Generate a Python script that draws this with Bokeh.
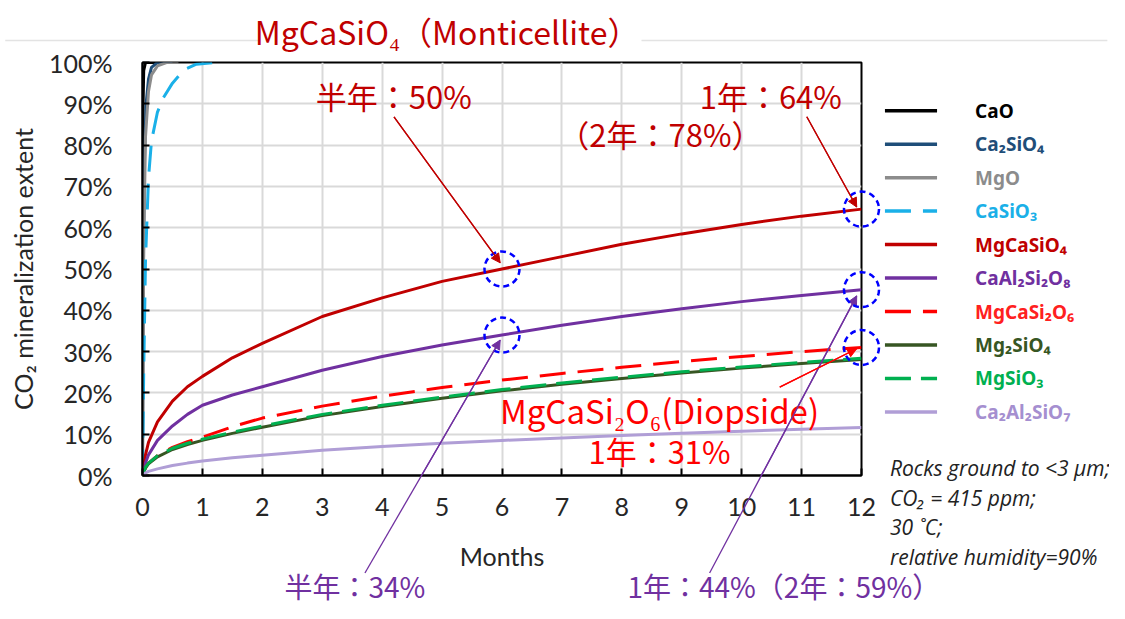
from bokeh.plotting import figure
from bokeh.models import (Range1d, FixedTicker, PrintfTickFormatter, Arrow, NormalHead)
from bokeh.core.properties import value
from bokeh.embed import file_html
from bokeh.resources import INLINE

# ---------------- data ----------------
months = [0, 0.05, 0.1, 0.25, 0.5, 0.75, 1, 1.5, 2, 3, 4, 5, 6, 7, 8, 9, 10, 11, 12]
MgCaSiO4 = [0, 5, 8, 13, 18, 21.5, 24, 28.5, 32, 38.5, 43, 47, 50, 53, 56, 58.5, 60.8, 62.8, 64.5]
CaAl2Si2O8 = [0, 3, 5, 8.5, 12, 14.8, 17, 19.5, 21.5, 25.5, 28.8, 31.6, 34, 36.4, 38.5, 40.4, 42.1, 43.6, 45]
MgCaSi2O6 = [0, 2, 3, 4.8, 6.8, 8.2, 9.3, 11.8, 13.9, 16.8, 19.2, 21.3, 23.1, 24.7, 26.2, 27.6, 28.8, 30, 31]
Mg2SiO4 = [0, 1.8, 2.8, 4.5, 6.3, 7.5, 8.5, 10.2, 11.7, 14.5, 16.7, 18.7, 20.5, 22.1, 23.5, 24.8, 26, 27.1, 28.1]
MgSiO3 = [0, 2, 3, 4.8, 6.6, 7.8, 8.8, 10.5, 12, 14.8, 17, 19, 20.8, 22.4, 23.8, 25.1, 26.3, 27.4, 28.4]
Ca2Al2SiO7 = [0, 0.6, 1, 1.6, 2.4, 3, 3.5, 4.3, 4.9, 6.1, 7, 7.8, 8.5, 9.1, 9.7, 10.2, 10.7, 11.2, 11.6]

CaO_t = [0, 0.003, 0.01, 0.02, 0.05, 0.5]
CaO = [0, 60, 90, 98, 100, 100]
Ca2SiO4_t = [0, 0.01, 0.03, 0.06, 0.1, 0.15, 0.25, 0.5]
Ca2SiO4 = [0, 40, 75, 90, 96, 98.8, 100, 100]
MgO_t = [0, 0.02, 0.05, 0.1, 0.15, 0.25, 0.4, 0.6]
MgO = [0, 55, 82, 93, 97, 99.2, 100, 100]
CaSiO3_t = [0, 0.02, 0.05, 0.1, 0.15, 0.25, 0.35, 0.5, 0.7, 0.9, 1.2]
CaSiO3 = [0, 25, 52, 72, 81, 88, 91.5, 95, 98.3, 99.6, 100]

x_ticks = list(range(0, 13))
y_ticks = list(range(0, 101, 10))

legend_names = ["CaO", "Ca₂SiO₄", "MgO", "CaSiO₃", "MgCaSiO₄", "CaAl₂Si₂O₈",
                "MgCaSi₂O₆", "Mg₂SiO₄", "MgSiO₃", "Ca₂Al₂SiO₇"]

# highlighted points (month, %)
hl_x = [6, 12, 6, 12, 12]
hl_y = [50, 64.5, 34, 45, 31]

conditions = ["Rocks ground to <3 μm;", "CO₂ = 415 ppm;", "30 ˚C;", "relative humidity=90%"]

# ---------------- figure ----------------
p = figure(width=1109, height=611, output_backend="svg", toolbar_location=None,
           x_range=Range1d(0, 12), y_range=Range1d(0, 100),
           min_border_left=142, min_border_right=248, min_border_top=62, min_border_bottom=136)
p.outline_line_color = "black"
p.outline_line_width = 2
p.background_fill_color = "white"
p.border_fill_color = "white"

xa = p.xaxis[0]
xa.ticker = FixedTicker(ticks=x_ticks)
ya = p.yaxis[0]
ya.ticker = FixedTicker(ticks=y_ticks)
ya.formatter = PrintfTickFormatter(format="%d%%")
for ax in (xa, ya):
    ax.major_tick_in = 7
    ax.major_tick_out = 0
    ax.minor_tick_line_color = None
    ax.axis_line_color = "black"
    ax.axis_line_width = 2
    ax.major_tick_line_color = "black"
    ax.major_tick_line_width = 2
    ax.major_label_text_font = "Lato"
    ax.major_label_text_font_size = "25px"
    ax.major_label_text_color = "#262626"
    ax.axis_label_text_font = "Lato"
    ax.axis_label_text_font_style = "normal"
    ax.axis_label_text_font_size = "25px"
    ax.axis_label_text_color = "#262626"
xa.major_label_standoff = 22
xa.axis_label = "Months"
xa.axis_label_standoff = 22
ya.major_label_standoff = 30
ya.axis_label = "CO₂ mineralization extent"
ya.axis_label_standoff = 8

p.xgrid.grid_line_color = "#D9D9D9"
p.xgrid.grid_line_width = 2
p.ygrid.grid_line_color = "#D9D9D9"
p.ygrid.grid_line_width = 2

series = [
    (CaO_t, CaO, "#000000", "solid", "#000000"),
    (Ca2SiO4_t, Ca2SiO4, "#1F4E79", "solid", "#1F4E79"),
    (MgO_t, MgO, "#8C8C8C", "solid", "#8C8C8C"),
    (CaSiO3_t, CaSiO3, "#1AB0E8", "26 12", "#1AB0E8"),
    (months, MgCaSiO4, "#C00000", "solid", "#C00000"),
    (months, CaAl2Si2O8, "#7030A0", "solid", "#7030A0"),
    (months, MgCaSi2O6, "#FF0000", "26 12", "#FF2020"),
    (months, Mg2SiO4, "#375623", "solid", "#375623"),
    (months, MgSiO3, "#00B050", "26 10", "#00B050"),
    (months, Ca2Al2SiO7, "#B09ED6", "solid", "#A58FD0"),
]

for xs, ys, col, dash, tcol in series:
    p.line(xs, ys, line_color=col, line_width=3, line_dash=dash)

# ---- manual legend (outside the frame, drawn as overlay glyphs) ----
PX = 59.8   # px per month
PY = 4.11   # px per percent
def dx(px):   # screenshot x -> month
    return (px - 142) / PX
def dy(py):   # screenshot y -> percent
    return (475 - py) / PY

for i, (name, (xs, ys, col, dash, tcol)) in enumerate(zip(legend_names, series)):
    yc = dy(112 + 33.3 * i)
    p.segment(x0=[dx(883)], y0=[yc], x1=[dx(935)], y1=[yc], line_color=col,
              line_width=3.5, line_dash=dash, level="overlay")
    p.text(x=[dx(973)], y=[yc], text=[name], text_color=tcol, text_font=value("Noto Sans"),
           text_font_style="bold", text_font_size="19px", text_baseline="middle",
           text_align="left", level="overlay")

# highlight circles
p.scatter(hl_x, hl_y, marker="circle", size=35, fill_alpha=0,
          line_color="#0000FF", line_width=2.5, line_dash="6 4", level="overlay")

# separator line at top (broken around the title)
p.segment(x0=[dx(5), dx(640)], y0=[dy(42)] * 2, x1=[dx(258), dx(1105)], y1=[dy(42)] * 2,
          line_color="#E3E3E3", line_width=1.5, level="overlay")

JP = "Noto Sans CJK JP"
DR = "#C00000"
RR = "#FF0000"
PU = "#7030A0"

def lab(x, y, text, color, size="31px", align="left", font=JP, style="normal"):
    p.text(x=[x], y=[y], text=[text], text_color=color, text_font=value(font),
           text_font_size=size, text_align=align, text_baseline="middle",
           text_font_style=style, level="overlay")

lab(dx(446), dy(33), "MgCaSiO₄（Monticellite）", DR, size="32px", align="center")
lab(dx(315), dy(97), "半年：50%", DR)
lab(dx(840), dy(97), "1年：64%", DR, align="right")
lab(dx(557), dy(135), "（2年：78%）", DR)
lab(dx(658), dy(410), "MgCaSi₂O₆(Diopside)", RR, size="33px", align="center")
lab(dx(658), dy(450), "1年：31%", RR, align="center")
lab(dx(354), dy(585), "半年：34%", PU, size="28px", align="center")
lab(dx(626), dy(585), "1年：44%（2年：59%）", PU, size="28px")

for j, t in enumerate(conditions):
    lab(dx(888), dy(468 + 29.3 * j), t, "#222222", size="21px", font="Open Sans", style="italic")

# arrows: full line as overlay segment + arrow annotation for the head
def arr(x0, y0, x1, y1, c):
    p.segment(x0=[x0], y0=[y0], x1=[x1], y1=[y1], line_color=c, line_width=1.3, level="overlay")
    p.add_layout(Arrow(x_start=x0, y_start=y0, x_end=x1, y_end=y1, line_color=c, line_width=1.3,
                       end=NormalHead(size=9, fill_color=c, line_color=c)))

arr(dx(364), dy(572), hl_x[2] - 0.03, hl_y[2] - 1.2, PU)
arr(dx(708), dy(572), hl_x[3] - 0.08, hl_y[3] - 1.5, PU)
arr(dx(393), dy(118), hl_x[0] - 0.03, hl_y[0] + 1.5, DR)
arr(dx(805), dy(118), hl_x[1] - 0.08, hl_y[1] + 0.5, DR)
arr(dx(778), dy(387), hl_x[4] - 0.08, hl_y[4] - 0.3, RR)

open("out.html", "w").write(file_html(p, INLINE))
